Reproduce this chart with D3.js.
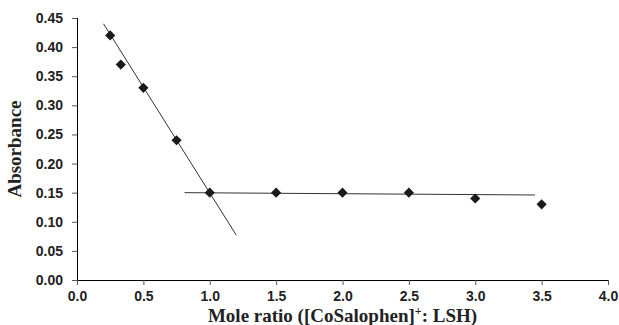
<!DOCTYPE html>
<html>
<head>
<meta charset="utf-8">
<script src="https://cdn.jsdelivr.net/npm/d3@7"></script>
<style>
  html, body { margin: 0; padding: 0; background: #fff; }
  svg { display: block; }
</style>
</head>
<body>
<svg id="chart" width="619" height="325"></svg>
<script>
// Mole ratio measurements
const moleRatio = [0.25, 0.33, 0.5, 0.75, 1.0, 1.5, 2.0, 2.5, 3.0, 3.5];
const absorbance = [0.42, 0.37, 0.33, 0.24, 0.15, 0.15, 0.15, 0.15, 0.14, 0.13];

// Two linear trend segments: [x, y] endpoints
const fitDescending = [[0.2, 0.44], [1.2, 0.077]];
const fitPlateau = [[0.81, 0.15], [3.45, 0.146]];

const xTicks = [0, 0.5, 1.0, 1.5, 2.0, 2.5, 3.0, 3.5, 4.0];
const yTicks = [0, 0.05, 0.10, 0.15, 0.20, 0.25, 0.30, 0.35, 0.40, 0.45];

const svg = d3.select("#chart");
const margin = { left: 77, right: 11, top: 18, bottom: 45 };
const W = 619, H = 325;

const x = d3.scaleLinear().domain([0, 4]).range([margin.left, W - margin.right]);
const y = d3.scaleLinear().domain([0, 0.45]).range([H - margin.bottom, margin.top]);

const tickFont = "'Liberation Sans', Arial, sans-serif";
const titleFont = "'Liberation Serif', 'Times New Roman', serif";

// X axis
const xAxis = svg.append("g")
  .attr("transform", `translate(0,${y(0)})`)
  .call(d3.axisBottom(x).tickValues(xTicks).tickFormat(d3.format(".1f")).tickSize(5).tickPadding(6));
// Y axis
const yAxis = svg.append("g")
  .attr("transform", `translate(${x(0)},0)`)
  .call(d3.axisLeft(y).tickValues(yTicks).tickFormat(d3.format(".2f")).tickSize(5).tickPadding(9));

[xAxis, yAxis].forEach(g => {
  g.select(".domain").attr("stroke", "#000").attr("stroke-width", 1);
  g.selectAll(".tick line").attr("stroke", "#555").attr("stroke-width", 1);
  g.selectAll(".tick text")
    .attr("fill", "#222")
    .style("font-family", tickFont)
    .style("font-weight", "bold")
    .style("font-size", "14px");
});
xAxis.selectAll(".domain").attr("d", `M${x(0)},0.5H${x(4)}`);
yAxis.selectAll(".domain").attr("d", `M0.5,${y(0)}V${y(0.45)}`);

// Trend lines
const line = d3.line().x(d => x(d[0])).y(d => y(d[1]));
[fitDescending, fitPlateau].forEach(seg => {
  svg.append("path")
    .attr("d", line(seg))
    .attr("fill", "none")
    .attr("stroke", "#333")
    .attr("stroke-width", 1);
});

// Diamond markers
svg.append("g")
  .selectAll("path")
  .data(moleRatio.map((m, i) => [m, absorbance[i]]))
  .join("path")
  .attr("transform", d => `translate(${x(d[0])},${y(d[1])}) rotate(45)`)
  .attr("d", d3.symbol().type(d3.symbolSquare).size(52)())
  .attr("fill", "#1a1a1a");

// Axis titles
svg.append("text")
  .attr("transform", `translate(21,${(y(0) + y(0.45)) / 2}) rotate(-90)`)
  .attr("text-anchor", "middle")
  .style("font-family", titleFont)
  .style("font-weight", "bold")
  .style("font-size", "19px")
  .attr("fill", "#222")
  .text("Absorbance");

const xt = svg.append("text")
  .attr("x", (x(0) + x(4)) / 2)
  .attr("y", 322)
  .attr("text-anchor", "middle")
  .style("font-family", titleFont)
  .style("font-weight", "bold")
  .style("font-size", "19px")
  .attr("fill", "#222");
xt.append("tspan").text("Mole ratio ([CoSalophen]");
xt.append("tspan").attr("dy", -7).style("font-size", "12px").text("+");
xt.append("tspan").attr("dy", 7).text(": LSH)");
</script>
</body>
</html>
